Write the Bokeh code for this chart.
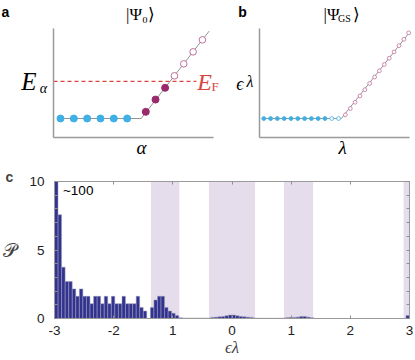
import numpy as np
from bokeh.plotting import figure
from bokeh.models import Label, FixedTicker, LinearAxis
from bokeh.layouts import column, row
from bokeh.embed import file_html
from bokeh.resources import INLINE

# ---------------- data ----------------
# panel a : single-particle levels of |Psi_0>
a_occ_alpha = [1, 2, 3, 4, 5, 6]
a_occ_E = [0, 0, 0, 0, 0, 0]
a_exc_alpha = [7.4, 8.13, 8.85]
a_exc_E = [0.5, 1.42, 2.3]
a_emp_alpha = [9.55, 10.25, 10.95, 11.65]
a_emp_E = [3.2, 4.1, 5.0, 5.9]
a_band_alpha = [1, 7.05, 12.15]
a_band_E = [0, 0, 6.55]
a_EF = 2.78
a_EF_alpha = [0.475, 11.2]
a_box_alpha = (0.475, 12.48)   # extent of the schematic axes
a_box_E = (-1.425, 6.75)

# panel b : levels of |Psi_GS>
b_occ_lam = [1, 2, 3, 4, 5, 6, 7, 8, 9, 10]
b_occ_eps = [0, 0, 0, 0, 0, 0, 0, 0, 0, 0]
b_hole_lam = [11, 12]
b_hole_eps = [0, 0]
b_emp_lam = [13.0, 13.72, 14.43, 15.15, 15.86, 16.58, 17.3, 18.0, 18.73, 19.45, 20.16, 20.88, 21.6, 22.31]
b_emp_eps = [0.54, 1.47, 2.39, 3.32, 4.24, 5.17, 6.1, 7.02, 7.95, 8.87, 9.8, 10.72, 11.65, 12.6]
b_band_lam = [1, 12.4, 22.45]
b_band_eps = [0, 0, 12.7]
b_box_lam = (0.37, 22.43)
b_box_eps = (-2.79, 13.24)

# panel c : histogram P(eps_lambda)
bin_start = -3.0
bin_width = 0.06
P_heights = [100, 7.57, 3.75, 2.70, 2.70, 2.16, 1.62, 2.16, 1.62, 1.62,
             1.08, 1.62, 1.62, 1.08, 1.62, 1.08, 1.62, 1.08, 1.08, 1.62,
             1.08, 1.08, 1.08, 1.62, 0.81, 0.54, 0.0, 0.81, 1.35, 1.62,
             1.62, 0.81, 0.54, 0.38, 0.22, 0.05,
             0.03, 0.03, 0.03, 0.03, 0.03, 0.03, 0.03, 0.03,
             0.08, 0.10, 0.12, 0.15, 0.20, 0.25, 0.25, 0.20, 0.15, 0.12, 0.10, 0.08, 0.04,
             0.02, 0.02, 0.02, 0.02, 0.02, 0.02, 0.02,
             0.03, 0.05, 0.07, 0.08, 0.10, 0.15, 0.15, 0.10, 0.06,
             0, 0, 0, 0, 0, 0, 0, 0, 0, 0, 0, 0, 0, 0, 0, 0, 0, 0, 0, 0, 0, 0, 0, 0, 0, 0,
             0.22]
band_lo = [-3.0, -1.37, -0.39, 0.88, 2.90]
band_hi = [-2.95, -0.89, 0.39, 1.37, 3.0]
c_xticks = [-3, -2, -1, 0, 1, 2, 3]
c_xtick_labels = ["-3", "-2", "1", "0", "1", "2", "3"]
c_yticks = [0, 5, 10]
c_yminor = [0, 1, 2, 3, 4, 5, 6, 7, 8, 9, 10]

# ---------------- styles ----------------
CYAN = "#3fb0e6"
PURPLE = "#9a2a6c"
PINK = "#c0709c"
RED = "#d8453f"
GREY = "#8f8f8f"
AXIS = "#9a9a9a"
SANS = "Liberation Sans"
SERIF = "Liberation Serif"
W, H = 415, 360


def fs(px):
    return "%.1fpx" % px


def lin(d0, d1, r0, r1):
    k = (d1 - d0) / (r1 - r0)
    return lambda r: d0 + (r - r0) * k


def label(p, fx, fy, rx, ry, text, size, font=SERIF, style="normal", color="black",
          align="center", baseline="middle"):
    p.add_layout(Label(x=fx(rx), y=fy(ry), text=text, text_font=font,
                       text_font_size=fs(size), text_font_style=style,
                       text_color=color, text_align=align, text_baseline=baseline))


def schematic_axes(p, xbox, ybox):
    p.grid.visible = False
    p.outline_line_color = None
    xa, ya = p.xaxis[0], p.yaxis[0]
    xa.fixed_location = ybox[0]
    xa.bounds = xbox
    ya.fixed_location = xbox[0]
    ya.bounds = ybox
    for ax in (xa, ya):
        ax.ticker = FixedTicker(ticks=[])
        ax.major_tick_line_color = None
        ax.minor_tick_line_color = None
        ax.axis_line_color = AXIS
        ax.axis_line_width = 1.5
        ax.major_label_standoff = 0
        ax.major_tick_out = 0
        ax.major_tick_in = 0


TOP_H = 163
A_W = 228
B_W = W - A_W

# ---------------- panel a ----------------
fxa = lin(a_box_alpha[0], a_box_alpha[1], 53, 213)
fya = lin(a_box_E[0], a_box_E[1], 137, 28)
pa = figure(width=A_W, height=TOP_H, x_range=(fxa(0), fxa(A_W)),
            y_range=(fya(TOP_H), fya(0)), toolbar_location=None, output_backend="svg",
            min_border=0)
schematic_axes(pa, a_box_alpha, a_box_E)
pa.line(a_EF_alpha, [a_EF, a_EF], line_color=RED, line_width=1.3, line_dash="4 3")
pa.line(a_band_alpha, a_band_E, line_color="#777777", line_width=0.8)
pa.scatter(a_occ_alpha, a_occ_E, size=7, fill_color=CYAN, line_color=CYAN)
pa.scatter(a_exc_alpha, a_exc_E, size=7, fill_color=PURPLE, line_color=PURPLE)
pa.scatter(a_emp_alpha, a_emp_E, size=6.6, fill_color="white", line_color=PINK, line_width=1)
label(pa, fxa, fya, 5, 11, "a", 14, font=SANS, style="bold")
label(pa, fxa, fya, 140, 14, "|Ψ₀⟩", 17)
label(pa, fxa, fya, 28.5, 81, "E", 25, style="italic")
label(pa, fxa, fya, 43, 88, "α", 14, style="italic")
label(pa, fxa, fya, 204, 81, "E", 24, style="italic", color=RED)
label(pa, fxa, fya, 214.5, 86, "F", 13, color=RED)
label(pa, fxa, fya, 141, 147, "α", 19, style="italic")

# ---------------- panel b ----------------
fxb = lin(b_box_lam[0], b_box_lam[1], 259, 409)
fyb = lin(b_box_eps[0], b_box_eps[1], 137, 28)
pb = figure(width=B_W, height=TOP_H, x_range=(fxb(A_W), fxb(W)),
            y_range=(fyb(TOP_H), fyb(0)), toolbar_location=None, output_backend="svg",
            min_border=0)
schematic_axes(pb, b_box_lam, b_box_eps)
pb.line(b_band_lam, b_band_eps, line_color="#777777", line_width=0.8)
pb.scatter(b_occ_lam, b_occ_eps, size=3.8, fill_color=CYAN, line_color=CYAN)
pb.scatter(b_hole_lam, b_hole_eps, size=3.8, fill_color="white", line_color=CYAN, line_width=0.8)
pb.scatter(b_emp_lam, b_emp_eps, size=3.8, fill_color="white", line_color=PINK, line_width=0.8)
label(pb, fxb, fyb, 242, 11, "b", 14, font=SANS, style="bold")
label(pb, fxb, fyb, 331, 14, "|Ψ", 17)
label(pb, fxb, fyb, 344, 18, "GS", 10)
label(pb, fxb, fyb, 356, 14, "⟩", 17)
label(pb, fxb, fyb, 239.5, 83, "ϵ", 18, style="italic")
label(pb, fxb, fyb, 249.5, 81, "λ", 16, style="italic")
label(pb, fxb, fyb, 342, 147, "λ", 19, style="italic")

# ---------------- panel c ----------------
c_xr = (-3.0, 3.0)
c_yr = (0, 10)
pc = figure(width=W, height=H - TOP_H, x_range=c_xr, y_range=c_yr,
            toolbar_location=None, output_backend="svg",
            min_border_left=53, min_border_right=6, min_border_top=18, min_border_bottom=42)
pc.grid.visible = False
pc.outline_line_color = AXIS

centers = [bin_start + bin_width * (i + 0.5) for i in range(len(P_heights))]
pc.quad(left=band_lo, right=band_hi, bottom=0, top=10, fill_color="#e5dcec", line_color=None)
pc.vbar(x=centers, top=P_heights, width=bin_width * 0.97, bottom=0,
        fill_color="#323290", line_color="#9a9ab4", line_width=0.5)

xa = pc.xaxis[0]
xa.ticker = FixedTicker(ticks=c_xticks)
xa.major_label_overrides = dict(zip(c_xticks, c_xtick_labels))
ya = pc.yaxis[0]
ya.ticker = FixedTicker(ticks=c_yticks, minor_ticks=c_yminor)
for ax in (xa, ya):
    ax.axis_line_color = AXIS
    ax.major_tick_in = 3
    ax.major_tick_out = 0
    ax.minor_tick_in = 3
    ax.minor_tick_out = 0
    ax.major_tick_line_color = GREY
    ax.minor_tick_line_color = GREY
    ax.major_label_text_font = SANS
    ax.major_label_text_font_size = fs(13.5)
    ax.major_label_text_color = "#222222"
xa.major_label_standoff = 7
ya.major_label_standoff = 10

ya.axis_label = "𝒫"
ya.axis_label_orientation = "horizontal"
ya.axis_label_text_font = "DejaVu Serif"
ya.axis_label_text_font_style = "normal"
ya.axis_label_text_font_size = fs(19)
ya.axis_label_standoff = 9
ya.axis_label_text_baseline = "bottom"

xa.axis_label = "ϵλ"
xa.axis_label_text_font = SERIF
xa.axis_label_text_font_style = "italic"
xa.axis_label_text_font_size = fs(17)
xa.axis_label_standoff = 0

top_ax = LinearAxis(ticker=FixedTicker(ticks=[], minor_ticks=c_xticks))
right_ax = LinearAxis(ticker=FixedTicker(ticks=[], minor_ticks=c_yminor))
for ax in (top_ax, right_ax):
    ax.axis_line_color = AXIS
    ax.major_tick_line_color = None
    ax.minor_tick_in = 3
    ax.minor_tick_out = 0
    ax.minor_tick_line_color = GREY
    ax.major_label_standoff = 0
pc.add_layout(top_ax, "above")
pc.add_layout(right_ax, "right")

pc.title.text = "c"
pc.title.text_font = SANS
pc.title.text_font_style = "bold"
pc.title.text_font_size = fs(14)
pc.title.align = "left"
pc.title.offset = -49
pc.title.standoff = -6

fxc = lin(-3.0, 3.0, 53.5, 409.3)
fyc = lin(0, 10, 318, 181)
label(pc, fxc, fyc, 62, 190, "~100", 13.5, font=SANS, align="left")

layout = column(row(pa, pb), pc)
open("out.html", "w").write(file_html(layout, INLINE))
